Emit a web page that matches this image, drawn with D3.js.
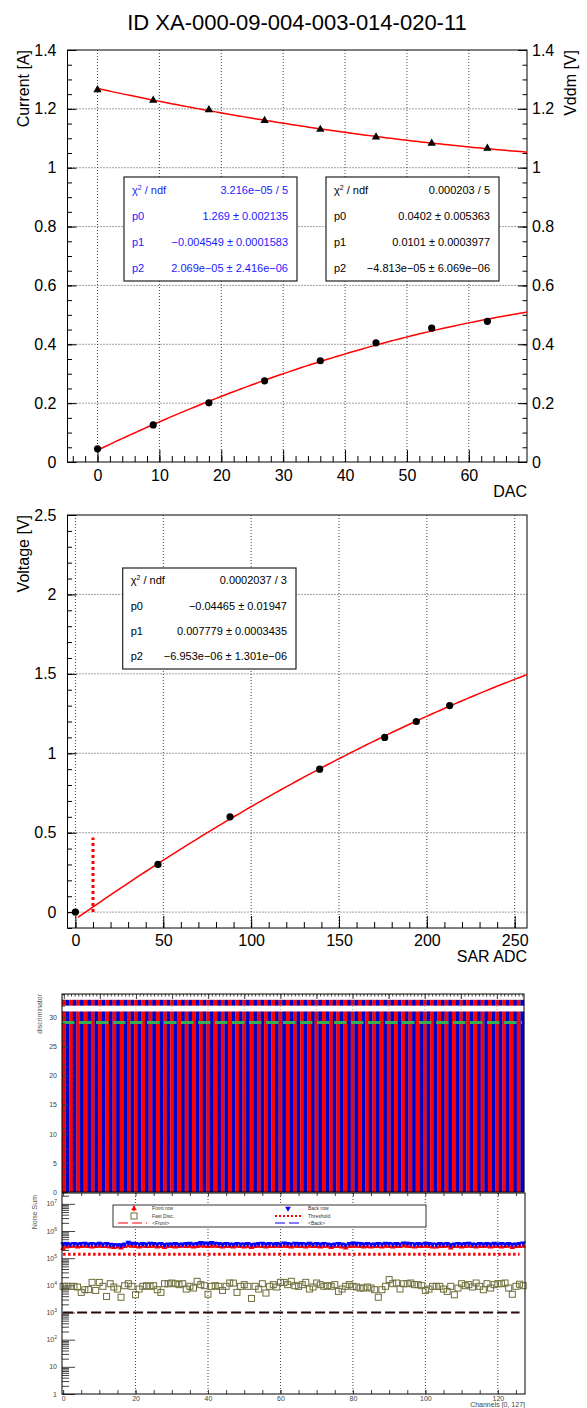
<!DOCTYPE html>
<html lang="en">
<head>
<meta charset="utf-8">
<title>ID XA-000-09-004-003-014-020-11</title>
<script src="https://cdn.jsdelivr.net/npm/d3@7"></script>
<style>
  body { margin: 0; background: #fff; }
  svg { display: block; font-family: "Liberation Sans", Arial, Helvetica, sans-serif; }
  .axis { font-family: "Liberation Sans", Arial, Helvetica, sans-serif; }
  .axis path { display: none; }
  .axis line { stroke: #000; }
  .axis text { font-size: 16px; fill: #000; }
  .axis.small text { font-size: 7px; fill: #444; }
  .axis.small line { stroke: #444; }
  .frame { fill: none; stroke: #000; stroke-width: 1; }
  .grid { stroke: #444; stroke-width: 1; stroke-dasharray: 1, 2; }
  .fit { fill: none; stroke: #ff0000; stroke-width: 1.5; }
</style>
</head>
<body>
<script>

var title = "ID XA-000-09-004-003-014-020-11";

// ---- panel 1 : Current / Vddm vs DAC
var dac = [0, 9, 18, 27, 36, 45, 54, 63];
var currentA = [1.265, 1.229, 1.197, 1.160, 1.130, 1.104, 1.083, 1.066];
var vddmV = [0.045, 0.126, 0.201, 0.276, 0.344, 0.405, 0.455, 0.478];
var fitCurrent = [1.269, -0.004549, 2.069e-05];
var fitVddm = [0.0402, 0.0101, -4.813e-05];
var statsCurrent = [["chi2", "3.216e\u221205 / 5"], ["p0", "1.269 \u00b1 0.002135"],
  ["p1", "\u22120.004549 \u00b1 0.0001583"], ["p2", "2.069e\u221205 \u00b1 2.416e\u221206"]];
var statsVddm = [["chi2", "0.000203 / 5"], ["p0", "0.0402 \u00b1 0.005363"],
  ["p1", "0.0101 \u00b1 0.0003977"], ["p2", "\u22124.813e\u221205 \u00b1 6.069e\u221206"]];
var dacTicks = [0, 10, 20, 30, 40, 50, 60];
var ampTicks = [0, 0.2, 0.4, 0.6, 0.8, 1, 1.2, 1.4];

// ---- panel 2 : Voltage vs SAR ADC
var sarAdc = [0, 47, 88, 139, 176, 194, 213];
var voltage = [0, 0.3, 0.6, 0.9, 1.1, 1.2, 1.3];
var fitVoltage = [-0.04465, 0.007779, -6.953e-06];
var statsVoltage = [["chi2", "0.0002037 / 3"], ["p0", "\u22120.04465 \u00b1 0.01947"],
  ["p1", "0.007779 \u00b1 0.0003435"], ["p2", "\u22126.953e\u221206 \u00b1 1.301e\u221206"]];
var adcCut = [10, 0, 0.47];   // x, from, to
var adcTicks = [0, 50, 100, 150, 200, 250];
var voltTicks = [0, 0.5, 1, 1.5, 2, 2.5];

// ---- panel 3 : discriminator map (R = red, B = blue column)
var channelColour = "RBRBRBRBRBRBRBRBRBRBRBRBRBRBRBRB" +
                    "RBRBRBRBRBRBRBRBRBRBRBRBRBRBRBRB" +
                    "RBRBRBRBRBRBRBRBRBRBRBRBRBRBRBRB" +
                    "RBRBRBRBRBRBRBRBRBRBRBRBRBRBRBRB";
var discRows = [[0, 31], [32, 33]];
var discLevel = 29.1;
var discTicks = [0, 5, 10, 15, 20, 25, 30];

// ---- panel 4 : noise sum per channel
var frontRow = [ // x 1e5
  2.3, 2.6, 2.7, 2.8, 2.6, 2.7, 2.8, 2.7, 2.6, 2.7,
  2.8, 2.7, 2.7, 2.6, 2.5, 2.6, 2.4, 2.7, 2.9, 2.8,
  2.7, 2.6, 2.8, 2.7, 2.7, 2.8, 2.6, 2.7, 2.5, 2.7,
  2.7, 2.6, 2.7, 2.8, 2.7, 2.8, 2.6, 2.7, 2.9, 2.8,
  2.7, 2.8, 2.8, 2.7, 2.6, 2.7, 2.7, 2.6, 2.8, 2.7,
  2.6, 2.7, 2.5, 2.7, 2.8, 2.7, 2.6, 2.7, 2.7, 2.8,
  2.7, 2.8, 2.7, 2.6, 2.8, 2.7, 2.7, 2.6, 2.8, 2.7,
  2.7, 2.6, 2.7, 2.8, 2.5, 2.7, 2.7, 2.6, 2.4, 2.7,
  2.8, 2.8, 2.7, 2.6, 2.7, 2.6, 2.7, 2.7, 2.6, 2.8,
  2.7, 2.6, 2.7, 2.7, 2.9, 2.8, 2.7, 2.6, 2.7, 2.7,
  2.8, 2.7, 2.6, 2.6, 2.7, 2.7, 2.8, 2.4, 2.7, 2.7,
  2.6, 2.7, 2.8, 2.7, 2.6, 2.7, 2.7, 2.8, 2.6, 2.7,
  2.7, 2.6, 2.7, 2.8, 2.5, 2.7, 2.7, 2.8];
var backRow = [ // x 1e5
  3.3, 3.4, 3.3, 3.4, 3.3, 3.4, 3.5, 3.3, 3.4, 3.3,
  3.5, 3.3, 3.4, 3.2, 3.0, 3.1, 2.9, 3.3, 3.8, 3.5,
  3.4, 3.3, 3.4, 3.3, 3.5, 3.4, 3.3, 3.4, 3.1, 3.3,
  3.3, 3.4, 3.2, 3.3, 3.4, 3.5, 3.3, 3.4, 3.7, 3.6,
  3.4, 3.7, 3.5, 3.4, 3.3, 3.4, 3.3, 3.2, 3.4, 3.3,
  3.3, 3.4, 3.1, 3.3, 3.4, 3.5, 3.3, 3.4, 3.3, 3.4,
  3.3, 3.6, 3.4, 3.3, 3.5, 3.4, 3.4, 3.3, 3.5, 3.3,
  3.4, 3.3, 3.4, 3.3, 3.1, 3.3, 3.4, 3.3, 3.0, 3.4,
  3.6, 3.5, 3.4, 3.3, 3.4, 3.2, 3.3, 3.4, 3.3, 3.5,
  3.4, 3.3, 3.4, 3.3, 3.6, 3.5, 3.4, 3.3, 3.4, 3.3,
  3.5, 3.4, 3.3, 3.2, 3.4, 3.3, 3.4, 3.0, 3.3, 3.4,
  3.3, 3.4, 3.5, 3.3, 3.2, 3.4, 3.3, 3.4, 3.3, 3.5,
  3.3, 3.4, 3.3, 3.4, 3.2, 3.3, 3.4, 3.6];
var fastDisc = [
  9200, 9300, 9100, 9200, 8700, 5500, 6900, 7000, 12900, 6500,
  12800, 9200, 3900, 11500, 8700, 7300, 3650, 9700, 11500, 9200,
  4500, 7300, 9200, 9700, 9200, 9700, 6900, 5500, 11500, 11400,
  12200, 11500, 10600, 11500, 7300, 9200, 7950, 14100, 10600, 9700,
  4700, 9200, 9700, 9200, 6500, 9200, 12200, 12100, 5500, 9200,
  10600, 9200, 3300, 9200, 7300, 11500, 5200, 9200, 10600, 8700,
  12900, 12800, 10600, 14100, 9700, 9200, 10600, 12900, 7300, 8700,
  12200, 10600, 9200, 9700, 9200, 10600, 6000, 7300, 9200, 10600,
  9200, 8700, 7950, 7950, 8700, 7950, 6900, 3650, 6900, 9200,
  16300, 11500, 12200, 7300, 11500, 11500, 12200, 10600, 10600, 9700,
  6500, 7300, 9200, 9200, 9200, 7300, 6000, 9200, 4500, 7950,
  11500, 9700, 10600, 8700, 12200, 9200, 6900, 11500, 7950, 10600,
  11500, 11500, 12200, 7950, 4700, 9200, 11000, 9700];
var threshold = 1.4e5;
var frontMean = 2.7e5;
var backMean = 3.35e5;
var lowLevel = 1000;
var legendLabels = ["Front row", "Back row", "Fast Disc.", "Threshold", "<Front>", "<Back>"];
var channelTicks = [0, 20, 40, 60, 80, 100, 120];

var w = 587, h = 1408;
var svg = d3.select("body").append("svg").attr("width", w).attr("height", h);

function axis(parent, gen, scale, tr, values, size, pad, fmt, cls) {
  var a = gen(scale).tickValues(values).tickSize(size).tickPadding(pad)
    .tickFormat(fmt || function () { return ""; });
  return parent.append("g").attr("class", "axis " + (cls || "")).attr("transform", tr).call(a);
}

function quad(p, from, to) {
  var pts = d3.range(from, to, (to - from) / 120).concat([to]);
  return pts.map(function (x) { return [x, p[0] + p[1] * x + p[2] * x * x]; });
}

function statsBox(g, b, rows, colour) {
  g.append("rect").attr("x", b.x).attr("y", b.y).attr("width", b.w).attr("height", b.h)
    .attr("fill", "#fff").attr("stroke", "#222").attr("stroke-width", 1.2);
  var rowH = b.h / rows.length;
  rows.forEach(function (r, i) {
    var cy = b.y + rowH * (i + 0.5);
    var t = g.append("text").attr("x", b.x + 8).attr("y", cy).attr("dy", "0.35em")
      .attr("font-size", 11).attr("fill", colour);
    if (r[0] === "chi2") {
      t.append("tspan").text("\u03c7");
      t.append("tspan").attr("font-size", 7).attr("dy", -4).text("2");
      t.append("tspan").attr("dy", 4).text(" / ndf");
    } else {
      t.text(r[0]);
    }
    g.append("text").attr("x", b.x + b.w - 9).attr("y", cy).attr("dy", "0.35em")
      .attr("text-anchor", "end").attr("font-size", 11).attr("fill", colour).text(r[1]);
  });
}

svg.append("text").attr("x", 297).attr("y", 30).attr("text-anchor", "middle")
  .attr("font-size", 22).text(title);

// ================= panel 1
var p1 = { l: 67.5, r: 527, t: 50, b: 462 };
var x1 = d3.scaleLinear().domain([-4.85, 69.4]).range([p1.l, p1.r]);
var y1 = d3.scaleLinear().domain([0, 1.4]).range([p1.b, p1.t]);
var g1 = svg.append("g");

g1.selectAll(".gx").data(dacTicks).enter().append("line").attr("class", "grid")
  .attr("x1", function (d) { return x1(d); }).attr("x2", function (d) { return x1(d); })
  .attr("y1", p1.t).attr("y2", p1.b);
g1.selectAll(".gy").data(ampTicks.slice(1, -1)).enter().append("line").attr("class", "grid")
  .attr("x1", p1.l).attr("x2", p1.r)
  .attr("y1", function (d) { return y1(d); }).attr("y2", function (d) { return y1(d); });

var fmt = function (d) { return String(d); };
axis(g1, d3.axisBottom, x1, "translate(0," + p1.b + ")", dacTicks, -12, 7.6, fmt);
axis(g1, d3.axisBottom, x1, "translate(0," + p1.b + ")", d3.range(-4, 69, 2), -6, 0);
axis(g1, d3.axisLeft, y1, "translate(" + p1.l + ",0)", ampTicks, -9, 11, fmt);
axis(g1, d3.axisLeft, y1, "translate(" + p1.l + ",0)", d3.range(0, 1.41, 0.05), -4.5, 0);
axis(g1, d3.axisRight, y1, "translate(" + p1.r + ",0)", ampTicks, -9, 5, fmt);
axis(g1, d3.axisRight, y1, "translate(" + p1.r + ",0)", d3.range(0, 1.41, 0.05), -4.5, 0);
g1.append("rect").attr("class", "frame").attr("x", p1.l).attr("y", p1.t)
  .attr("width", p1.r - p1.l).attr("height", p1.b - p1.t);

var line1 = d3.line().x(function (d) { return x1(d[0]); }).y(function (d) { return y1(d[1]); });
g1.append("path").attr("class", "fit").attr("d", line1(quad(fitCurrent, 0, 69.4)));
g1.append("path").attr("class", "fit").attr("d", line1(quad(fitVddm, 0, 69.4)));

g1.selectAll(".tri").data(dac).enter().append("path")
  .attr("d", d3.symbol().type(d3.symbolTriangle).size(30))
  .attr("transform", function (d, i) { return "translate(" + x1(d) + "," + y1(currentA[i]) + ")"; });
g1.selectAll(".dot").data(dac).enter().append("circle").attr("r", 3.6)
  .attr("cx", function (d) { return x1(d); })
  .attr("cy", function (d, i) { return y1(vddmV[i]); });

statsBox(g1, { x: 124, y: 177, w: 173, h: 104 }, statsCurrent, "#1a1aff");
statsBox(g1, { x: 326, y: 177, w: 173, h: 104 }, statsVddm, "#000");

g1.append("text").attr("transform", "translate(29," + p1.t + ") rotate(-90)")
  .attr("text-anchor", "end").attr("font-size", 16).text("Current [A]");
g1.append("text").attr("transform", "translate(576," + p1.t + ") rotate(-90)")
  .attr("text-anchor", "end").attr("font-size", 16).text("Vddm [V]");
g1.append("text").attr("x", p1.r).attr("y", 497).attr("text-anchor", "end")
  .attr("font-size", 16).text("DAC");

// ================= panel 2
var p2 = { l: 67.5, r: 527, t: 515, b: 928 };
var x2 = d3.scaleLinear().domain([-4.5, 257]).range([p2.l, p2.r]);
var y2 = d3.scaleLinear().domain([-0.1, 2.5]).range([p2.b, p2.t]);
var g2 = svg.append("g");

g2.selectAll(".gx").data(adcTicks).enter().append("line").attr("class", "grid")
  .attr("x1", function (d) { return x2(d); }).attr("x2", function (d) { return x2(d); })
  .attr("y1", p2.t).attr("y2", p2.b);
g2.selectAll(".gy").data(voltTicks.slice(0, -1)).enter().append("line").attr("class", "grid")
  .attr("x1", p2.l).attr("x2", p2.r)
  .attr("y1", function (d) { return y2(d); }).attr("y2", function (d) { return y2(d); });

axis(g2, d3.axisBottom, x2, "translate(0," + p2.b + ")", adcTicks, -12, 6.6, fmt);
axis(g2, d3.axisBottom, x2, "translate(0," + p2.b + ")", d3.range(0, 257, 10), -6, 0);
axis(g2, d3.axisLeft, y2, "translate(" + p2.l + ",0)", voltTicks, -9, 11, fmt);
axis(g2, d3.axisLeft, y2, "translate(" + p2.l + ",0)", d3.range(-0.1, 2.51, 0.1), -4.5, 0);
g2.append("rect").attr("class", "frame").attr("x", p2.l).attr("y", p2.t)
  .attr("width", p2.r - p2.l).attr("height", p2.b - p2.t);

var line2 = d3.line().x(function (d) { return x2(d[0]); }).y(function (d) { return y2(d[1]); });
g2.append("path").attr("class", "fit").attr("d", line2(quad(fitVoltage, 1.5, 257)));
g2.append("line").attr("x1", x2(adcCut[0])).attr("x2", x2(adcCut[0]))
  .attr("y1", y2(adcCut[1])).attr("y2", y2(adcCut[2]))
  .attr("stroke", "#ff0000").attr("stroke-width", 3).attr("stroke-dasharray", "3,3");
g2.selectAll(".dot").data(sarAdc).enter().append("circle").attr("r", 3.6)
  .attr("cx", function (d) { return x2(d); })
  .attr("cy", function (d, i) { return y2(voltage[i]); });

statsBox(g2, { x: 122.7, y: 568, w: 173.3, h: 101 }, statsVoltage, "#000");

g2.append("text").attr("transform", "translate(29," + p2.t + ") rotate(-90)")
  .attr("text-anchor", "end").attr("font-size", 16).text("Voltage [V]");
g2.append("text").attr("x", p2.r).attr("y", 962).attr("text-anchor", "end")
  .attr("font-size", 16).text("SAR ADC");

// ================= panel 3
var p3 = { l: 62, r: 524, t: 994, b: 1192 };
var x3 = d3.scaleLinear().domain([-0.5, 127.5]).range([p3.l, p3.r]);
var y3 = d3.scaleLinear().domain([0, 34]).range([p3.b, p3.t]);
var g3 = svg.append("g");

var cells = [];
channelColour.split("").forEach(function (c, i) {
  discRows.forEach(function (r) { cells.push({ ch: i, lo: r[0], hi: r[1], c: c }); });
});
g3.selectAll(".cell").data(cells).enter().append("rect")
  .attr("x", function (d) { return x3(d.ch - 0.5); })
  .attr("width", x3(1) - x3(0) + 0.2)
  .attr("y", function (d) { return y3(d.hi); })
  .attr("height", function (d) { return y3(d.lo) - y3(d.hi); })
  .attr("fill", function (d) { return d.c === "R" ? "#ff0000" : "#0000c8"; });

g3.selectAll(".gx").data(d3.range(10, 128, 10)).enter().append("line").attr("class", "grid")
  .attr("opacity", 0.45)
  .attr("x1", function (d) { return x3(d); }).attr("x2", function (d) { return x3(d); })
  .attr("y1", p3.t).attr("y2", p3.b);
g3.append("line").attr("x1", p3.l).attr("x2", p3.r - 2)
  .attr("y1", y3(discLevel)).attr("y2", y3(discLevel))
  .attr("stroke", "#35b050").attr("stroke-width", 3).attr("stroke-dasharray", "12.5,4.5");

axis(g3, d3.axisTop, x3, "translate(0," + p3.t + ")", d3.range(0, 128, 10), -5, 0, null, "small");
axis(g3, d3.axisTop, x3, "translate(0," + p3.t + ")", d3.range(0, 128, 1), -2.5, 0, null, "small");
axis(g3, d3.axisLeft, y3, "translate(" + p3.l + ",0)", discTicks, -6, 5, fmt, "small");
axis(g3, d3.axisLeft, y3, "translate(" + p3.l + ",0)", d3.range(0, 35, 1), -3, 0, null, "small");
g3.append("rect").attr("class", "frame").attr("stroke", "#555").attr("x", p3.l).attr("y", p3.t)
  .attr("width", p3.r - p3.l).attr("height", p3.b - p3.t);
g3.append("text").attr("transform", "translate(42," + p3.t + ") rotate(-90)")
  .attr("text-anchor", "end").attr("font-size", 7).attr("fill", "#555").text("discriminator");

// ================= panel 4
var p4 = { l: 62, r: 525, t: 1193, b: 1394 };
var x4 = d3.scaleLinear().domain([-0.3, 127.5]).range([p4.l, p4.r]);
var y4 = d3.scaleLog().domain([1, Math.pow(10, 7.4)]).range([p4.b, p4.t]);
var g4 = svg.append("g");

g4.selectAll(".gx").data(channelTicks.slice(1)).enter().append("line").attr("class", "grid")
  .attr("stroke", "#888")
  .attr("x1", function (d) { return x4(d); }).attr("x2", function (d) { return x4(d); })
  .attr("y1", p4.t).attr("y2", p4.b);

var decades = d3.range(0, 8);
var minorLog = [];
decades.forEach(function (k) {
  d3.range(2, 10).forEach(function (m) {
    var v = m * Math.pow(10, k);
    if (v < Math.pow(10, 7.4)) minorLog.push(v);
  });
});
axis(g4, d3.axisLeft, y4, "translate(" + p4.l + ",0)",
  decades.map(function (k) { return Math.pow(10, k); }), -13, 0, null, "small");
axis(g4, d3.axisLeft, y4, "translate(" + p4.l + ",0)", minorLog, -7, 0, null, "small");
axis(g4, d3.axisBottom, x4, "translate(0," + p4.b + ")", channelTicks, -4, 2, fmt, "small");
axis(g4, d3.axisBottom, x4, "translate(0," + p4.b + ")", d3.range(0, 128, 5), -4, 0, null, "small");
axis(g4, d3.axisTop, x4, "translate(0," + p4.t + ")", d3.range(0, 128, 5), -3, 0, null, "small");

var yl = g4.selectAll(".ylab").data(decades).enter().append("text")
  .attr("x", 57).attr("y", function (k) { return y4(Math.pow(10, k)) + 2.5; })
  .attr("text-anchor", "end").attr("font-size", 7).attr("fill", "#444");
yl.each(function (k) {
  var t = d3.select(this);
  if (k === 0) { t.text("1"); return; }
  if (k === 1) { t.text("10"); return; }
  t.append("tspan").text("10");
  t.append("tspan").attr("font-size", 5).attr("dy", -3).text(k);
});

// reference levels
var hline = function (level, col, width, dash) {
  g4.append("line").attr("x1", x4(0)).attr("x2", x4(126))
    .attr("y1", y4(level)).attr("y2", y4(level))
    .attr("stroke", col).attr("stroke-width", width).attr("stroke-dasharray", dash);
};
hline(frontMean, "#ff0000", 1.5, "8,3");
hline(backMean, "#0000ff", 1.5, "8,3");
hline(threshold, "#ff0000", 3, "2.5,2.5");
hline(lowLevel, "#2a0808", 2, "10,4");

g4.selectAll(".sq").data(fastDisc).enter().append("rect")
  .attr("x", function (d, i) { return x4(i) - 3; }).attr("y", function (d) { return y4(d) - 3; })
  .attr("width", 6).attr("height", 6)
  .attr("fill", "none").attr("stroke", "#6e6e3c").attr("stroke-width", 1);
g4.selectAll(".fr").data(frontRow).enter().append("path")
  .attr("d", d3.symbol().type(d3.symbolTriangle).size(14)).attr("fill", "#ff0000")
  .attr("transform", function (d, i) { return "translate(" + x4(i) + "," + y4(d * 1e5) + ")"; });
g4.selectAll(".bk").data(backRow).enter().append("path")
  .attr("d", d3.symbol().type(d3.symbolTriangle).size(14)).attr("fill", "#0000ff")
  .attr("transform", function (d, i) { return "translate(" + x4(i) + "," + y4(d * 1e5) + ") rotate(180)"; });

// legend
var lg = g4.append("g");
lg.append("rect").attr("x", 113).attr("y", 1205).attr("width", 313).attr("height", 22)
  .attr("fill", "#fff").attr("stroke", "#333").attr("stroke-width", 1);
var rowsY = [1208.5, 1216, 1223];
var colX = [134, 288];
var textX = [152, 308];
legendLabels.forEach(function (lab, i) {
  var col = i % 2, row = Math.floor(i / 2);
  lg.append("text").attr("x", textX[col]).attr("y", rowsY[row] + 1.8)
    .attr("font-size", 5).attr("fill", "#333").text(lab);
});
lg.append("path").attr("d", d3.symbol().type(d3.symbolTriangle).size(14)).attr("fill", "#ff0000")
  .attr("transform", "translate(" + colX[0] + "," + rowsY[0] + ")");
lg.append("line").attr("x1", colX[0]).attr("x2", colX[0]).attr("y1", rowsY[0] - 3).attr("y2", rowsY[0] + 3)
  .attr("stroke", "#ff0000");
lg.append("path").attr("d", d3.symbol().type(d3.symbolTriangle).size(14)).attr("fill", "#0000ff")
  .attr("transform", "translate(" + colX[1] + "," + rowsY[0] + ") rotate(180)");
lg.append("rect").attr("x", colX[0] - 3).attr("y", rowsY[1] - 3).attr("width", 6).attr("height", 6)
  .attr("fill", "none").attr("stroke", "#6e6e3c");
lg.append("line").attr("x1", 275).attr("x2", 302).attr("y1", rowsY[1]).attr("y2", rowsY[1])
  .attr("stroke", "#ff0000").attr("stroke-width", 2).attr("stroke-dasharray", "2,2");
lg.append("line").attr("x1", 118).attr("x2", 147).attr("y1", rowsY[2]).attr("y2", rowsY[2])
  .attr("stroke", "#ff0000").attr("stroke-width", 1.2).attr("stroke-dasharray", "10,4");
lg.append("line").attr("x1", 275).attr("x2", 302).attr("y1", rowsY[2]).attr("y2", rowsY[2])
  .attr("stroke", "#0000ff").attr("stroke-width", 1.2).attr("stroke-dasharray", "10,4");

g4.append("rect").attr("class", "frame").attr("stroke", "#555").attr("x", p4.l).attr("y", p4.t)
  .attr("width", p4.r - p4.l).attr("height", p4.b - p4.t);
g4.append("text").attr("transform", "translate(37,1195) rotate(-90)")
  .attr("text-anchor", "end").attr("font-size", 7).attr("fill", "#555").text("Noise Sum");
g4.append("text").attr("x", p4.r).attr("y", 1407).attr("text-anchor", "end")
  .attr("font-size", 7).attr("fill", "#444").text("Channels [0, 127]");

</script>
</body>
</html>
